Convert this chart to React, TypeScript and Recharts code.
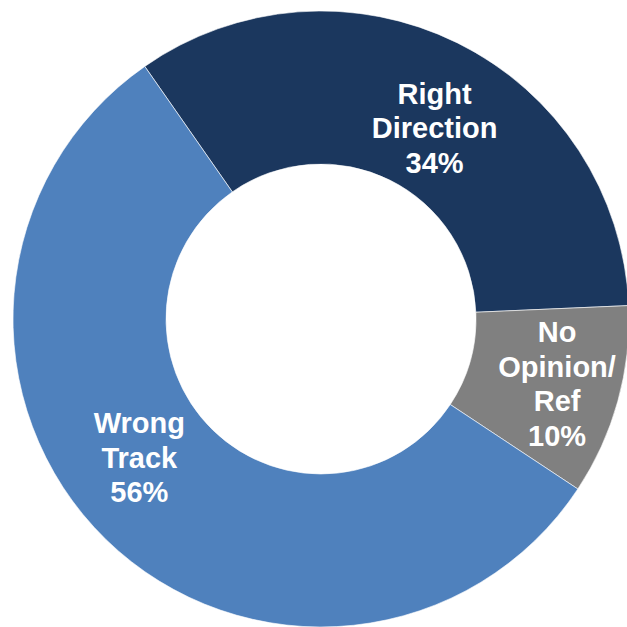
import { PieChart, Pie, Cell } from 'recharts';

const categories = ['Right\nDirection', 'No\nOpinion/\nRef', 'Wrong\nTrack'];
const shares = [34, 10, 56];
const colors = ['#1B375E', '#808080', '#4F81BD'];
// nudges so labels sit where the original deck put them
const labelNudge = [
  { dx: 11, dy: 17 },
  { dx: 13, dy: 3 },
  { dx: -20, dy: -27 },
];

const data = categories.map((name, i) => ({ name, value: shares[i] }));

const RAD = Math.PI / 180;

function renderLabel(props: any) {
  const { cx, cy, midAngle, innerRadius, outerRadius, index, value } = props;
  const r = (innerRadius + outerRadius) / 2;
  const x = cx + r * Math.cos(-midAngle * RAD) + labelNudge[index].dx;
  const y = cy + r * Math.sin(-midAngle * RAD) + labelNudge[index].dy;
  const lines = [...categories[index].split('\n'), `${value}%`];
  const lh = 34.5;
  const top = y - ((lines.length - 1) * lh) / 2;
  return (
    <text
      x={x}
      y={top}
      fill="#fff"
      textAnchor="middle"
      dominantBaseline="central"
      fontFamily="'Liberation Sans', Arial, sans-serif"
      fontWeight="bold"
      fontSize={29}
    >
      {lines.map((t, k) => (
        <tspan key={k} x={x} y={top + k * lh}>
          {t}
        </tspan>
      ))}
    </text>
  );
}

export default function App() {
  return (
    <div style={{ position: 'absolute', left: 0, top: 0, width: 627, height: 627, background: '#fff' }}>
      <PieChart width={627} height={627} margin={{ top: 0, right: 0, bottom: 0, left: 0 }}>
        <Pie
          data={data}
          dataKey="value"
          nameKey="name"
          cx={321}
          cy={319}
          innerRadius={155}
          outerRadius={308}
          startAngle={124.9}
          endAngle={124.9 - 360}
          stroke="#fff"
          strokeWidth={0.6}
          label={renderLabel}
          labelLine={false}
          isAnimationActive={false}
        >
          {data.map((d, i) => (
            <Cell key={d.name} fill={colors[i]} />
          ))}
        </Pie>
      </PieChart>
    </div>
  );
}
